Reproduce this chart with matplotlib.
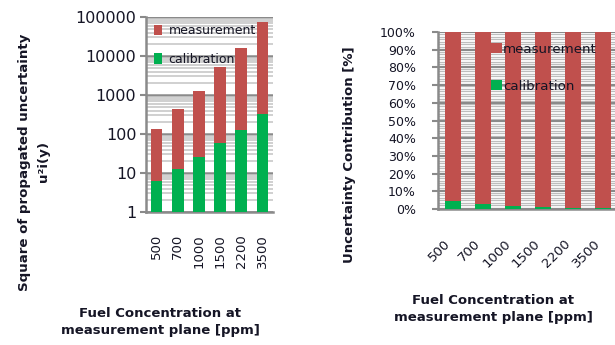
import numpy as np
import matplotlib
matplotlib.use("Agg")
import matplotlib.pyplot as plt
from matplotlib.patches import Patch
from matplotlib.ticker import FixedLocator, FuncFormatter, NullFormatter

# ---- data ----
concentrations = ["500", "700", "1000", "1500", "2200", "3500"]
calibration = [6.2, 12.9, 25.4, 59, 128, 325]
measurement = [129, 423, 1275, 5240, 15870, 73680]
log_ticks = [1, 10, 100, 1000, 10000, 100000]

cal = np.array(calibration, dtype=float)
meas = np.array(measurement, dtype=float)
total = cal + meas
cal_pct = cal / total * 100
meas_pct = meas / total * 100

RED = "#C0504D"
GREEN = "#00B050"
MAJOR = "#8a8a8a"
MINOR = "#c4c4c4"
TXT = "#151525"

plt.rcParams["font.family"] = ["DejaVu Sans"]

W, H = 615, 345
fig = plt.figure(figsize=(W / 100, H / 100), dpi=100)


def fx(px):
    return px / W


def fy(py):
    return 1 - py / H


x = np.arange(len(concentrations))

# ---- left: absolute contributions on a log axis ----
ax1 = fig.add_axes([fx(146), fy(212), fx(273) - fx(146), fy(17) - fy(212)])
ax1.set_yscale("log")
ax1.set_ylim(1, 100000)
ax1.set_xlim(-0.5, len(x) - 0.5)
ax1.set_axisbelow(True)
ax1.bar(x, cal, width=0.55, color=GREEN, zorder=3)
ax1.bar(x, meas, width=0.55, bottom=cal, color=RED, zorder=3)

ax1.yaxis.set_major_locator(FixedLocator(log_ticks))
ax1.yaxis.set_major_formatter(FuncFormatter(lambda v, p: f"{int(round(v))}"))
ax1.yaxis.set_minor_formatter(NullFormatter())
ax1.grid(True, which="minor", axis="y", color=MINOR, lw=1.1, zorder=0)
ax1.grid(True, which="major", axis="y", color=MAJOR, lw=1.8, zorder=1)
ax1.tick_params(axis="y", which="major", length=4, width=1.5, color=MAJOR,
                labelsize=11.5, pad=3, labelcolor=TXT)
ax1.tick_params(axis="y", which="minor", length=0)
ax1.set_xticks(x)
ax1.set_xticklabels(concentrations, rotation=90, va="top", ha="center")
ax1.tick_params(axis="x", length=0, labelsize=9.5, pad=16, labelcolor=TXT)
for s in ("top", "right"):
    ax1.spines[s].set_visible(False)
for s in ("left", "bottom"):
    ax1.spines[s].set_color(MAJOR)
    ax1.spines[s].set_linewidth(1.8)

leg_handles = [Patch(facecolor=RED, edgecolor="none", label="measurement"),
               Patch(facecolor=GREEN, edgecolor="none", label="calibration")]
ax1.legend(handles=leg_handles, loc="upper left", frameon=False,
           bbox_to_anchor=(fx(154), fy(24)), bbox_transform=fig.transFigure,
           fontsize=9, labelcolor=TXT, handlelength=0.65, handleheight=0.9,
           handletextpad=0.5, labelspacing=1.25, borderpad=0, borderaxespad=0)

fig.text(fx(34), fy(162),
         "Square of propagated uncertainty\nu\u00b2i(y)",
         rotation=90, ha="center", va="center", multialignment="center",
         fontsize=9.6, fontweight="bold", color=TXT, linespacing=1.55)
fig.text(fx(160), fy(322),
         "Fuel Concentration at\nmeasurement plane [ppm]",
         ha="center", va="center", multialignment="center",
         fontsize=9.5, fontweight="bold", color=TXT, linespacing=1.4)

# ---- right: relative contributions ----
ax2 = fig.add_axes([fx(438), fy(209), fx(618) - fx(438), fy(32) - fy(209)])
ax2.set_ylim(0, 100)
ax2.set_xlim(-0.5, len(x) - 0.5)
ax2.set_axisbelow(True)
# striped plot-area fill
ax2.hlines(np.arange(0.7, 100, 1.4), -0.5, len(x) - 0.5,
           color="#bdbdbd", lw=0.9, zorder=0)
ax2.bar(x, cal_pct, width=0.55, color=GREEN, zorder=3)
ax2.bar(x, meas_pct, width=0.55, bottom=cal_pct, color=RED, zorder=3)
ax2.set_yticks(np.arange(0, 101, 10))
ax2.yaxis.set_major_formatter(FuncFormatter(lambda v, p: f"{int(v)}%"))
ax2.grid(True, axis="y", color=MAJOR, lw=1.5, zorder=1)
ax2.tick_params(axis="y", length=4, width=1.5, color=MAJOR, labelsize=9,
                pad=12, labelcolor=TXT)
ax2.set_xticks(x)
ax2.set_xticklabels(concentrations, rotation=45, ha="right", va="top")
ax2.tick_params(axis="x", length=0, labelsize=9.5, pad=20, labelcolor=TXT)
for s in ("top", "right"):
    ax2.spines[s].set_visible(False)
for s in ("left", "bottom"):
    ax2.spines[s].set_color(MAJOR)
    ax2.spines[s].set_linewidth(1.8)

ax2.legend(handles=leg_handles, loc="upper left", frameon=False,
           bbox_to_anchor=(fx(491), fy(43)), bbox_transform=fig.transFigure,
           fontsize=9.6, labelcolor=TXT, handlelength=0.8, handleheight=0.8,
           handletextpad=0.1, labelspacing=1.8, borderpad=0, borderaxespad=0)

fig.text(fx(350), fy(155), "Uncertainty Contribution [%]",
         rotation=90, ha="center", va="center",
         fontsize=9.5, fontweight="bold", color=TXT)
fig.text(fx(493), fy(309),
         "Fuel Concentration at\nmeasurement plane [ppm]",
         ha="center", va="center", multialignment="center",
         fontsize=9.5, fontweight="bold", color=TXT, linespacing=1.4)

fig.savefig("out.png", dpi=100)
